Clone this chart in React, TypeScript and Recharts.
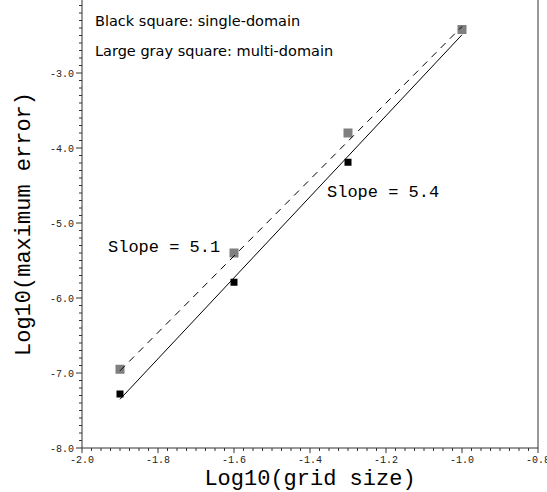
import { Customized, ReferenceLine, Scatter, ScatterChart, XAxis, YAxis } from "recharts";

// log10 of grid spacing
const gridSize = [-1.9, -1.6, -1.3, -1.0];
// log10 of max error
const singleDomain = [-7.28, -5.79, -4.19, -2.43];
const multiDomain = [-6.95, -5.4, -3.8, -2.42];

// least-squares fits: value at the coarsest grid (x = -1.9) and slope
const multiFitStart = -6.97;
const multiSlope = 5.1;
const singleFitStart = -7.35;
const singleSlope = 5.4;

const xMajor = [-2.0, -1.8, -1.6, -1.4, -1.2, -1.0, -0.8];
const yMajor = [-8, -7, -6, -5, -4, -3, -2];
const yLabelled = [-8, -7, -6, -5, -4, -3];
const xMinorStep = 0.025;
const yMinorStep = 0.1;

const subTicks = (majors: number[], step: number) => {
  const out: number[] = [];
  const lo = majors[0];
  const hi = majors[majors.length - 1];
  const n = Math.round((hi - lo) / step);
  for (let i = 0; i <= n; i++) out.push(+(lo + i * step).toFixed(4));
  return out;
};
const isIn = (v: number, list: number[]) => list.some((m) => Math.abs(m - v) < 1e-6);

const singleData = gridSize.map((x, i) => ({ x, y: singleDomain[i] }));
const multiData = gridSize.map((x, i) => ({ x, y: multiDomain[i] }));
const fitEnds = [gridSize[0], gridSize[gridSize.length - 1]];
const multiFit = fitEnds.map((x) => ({ x, y: multiFitStart + multiSlope * (x - fitEnds[0]) }));
const singleFit = fitEnds.map((x) => ({ x, y: singleFitStart + singleSlope * (x - fitEnds[0]) }));

const AXIS = "#333";
const MONO = "'Liberation Mono', 'DejaVu Sans Mono', monospace";
const SANS = "'DejaVu Sans', sans-serif";

const XTick = ({ x, y, payload }: any) => {
  const major = isIn(payload.value, xMajor);
  return (
    <g>
      <line x1={x} x2={x} y1={y} y2={y + (major ? 5 : 3)} stroke={AXIS} />
      {major && (
        <text x={x} y={y + 15} textAnchor="middle" fontFamily={MONO} fontSize={10} fill="#222">
          {payload.value.toFixed(1)}
        </text>
      )}
    </g>
  );
};

const YTick = ({ x, y, payload }: any) => {
  const major = isIn(payload.value, yMajor);
  return (
    <g>
      <line x1={x} x2={x - (major ? 6 : 3)} y1={y} y2={y} stroke={AXIS} />
      {isIn(payload.value, yLabelled) && (
        <text x={x - 8} y={y + 3.5} textAnchor="end" fontFamily={MONO} fontSize={10} fill="#222">
          {payload.value.toFixed(1)}
        </text>
      )}
    </g>
  );
};

const square = (size: number, fill: string) => (props: any) =>
  <rect x={props.cx - size / 2} y={props.cy - size / 2} width={size} height={size} fill={fill} />;

const noShape = () => <g />;

const Notes = () => (
  <g>
    <text x={95} y={26} fontFamily={SANS} fontSize={14.5} fill="#000">
      Black square: single-domain
    </text>
    <text x={95} y={56} fontFamily={SANS} fontSize={14.5} fill="#000">
      Large gray square: multi-domain
    </text>
    <text x={108} y={252} fontFamily={MONO} fontSize={17} fill="#000">
      {`Slope = ${multiSlope.toFixed(1)}`}
    </text>
    <text x={327} y={197} fontFamily={MONO} fontSize={17} fill="#000">
      {`Slope = ${singleSlope.toFixed(1)}`}
    </text>
    <text x={310} y={485} textAnchor="middle" fontFamily={MONO} fontSize={22} fill="#000">
      Log10(grid size)
    </text>
    <text
      x={30}
      y={224}
      transform="rotate(-90 30 224)"
      textAnchor="middle"
      fontFamily={MONO}
      fontSize={22}
      fill="#000"
    >
      Log10(maximum error)
    </text>
  </g>
);

export default function App() {
  return (
    <div style={{ position: "absolute", left: 0, top: 0, width: 547, height: 492, overflow: "hidden", background: "#fff" }}>
      <ScatterChart width={547} height={492} margin={{ top: -2, right: 9, bottom: 0, left: 0 }}>
        <XAxis
          type="number"
          dataKey="x"
          domain={[-2, -0.8]}
          ticks={subTicks(xMajor, xMinorStep)}
          interval={0}
          tickSize={0}
          tickMargin={0}
          tickLine={false}
          tick={<XTick />}
          axisLine={{ stroke: AXIS }}
          height={44}
        />
        <YAxis
          type="number"
          dataKey="y"
          domain={[-8, -2]}
          ticks={subTicks(yMajor, yMinorStep)}
          interval={0}
          tickSize={0}
          tickMargin={0}
          tickLine={false}
          tick={<YTick />}
          axisLine={{ stroke: AXIS }}
          width={82}
        />
        <ReferenceLine x={-0.8} stroke={AXIS} />
        <ReferenceLine y={-2} stroke={AXIS} />
        <Scatter data={singleData} shape={square(7, "#000")} isAnimationActive={false} />
        <Scatter data={multiData} shape={square(9, "#7f7f7f")} isAnimationActive={false} />
        <Scatter
          data={multiFit}
          shape={noShape}
          line={{ stroke: "#000", strokeWidth: 1, strokeDasharray: "7 6" }}
          isAnimationActive={false}
        />
        <Scatter data={singleFit} shape={noShape} line={{ stroke: "#000", strokeWidth: 1 }} isAnimationActive={false} />
        <Customized component={Notes} />
      </ScatterChart>
    </div>
  );
}
